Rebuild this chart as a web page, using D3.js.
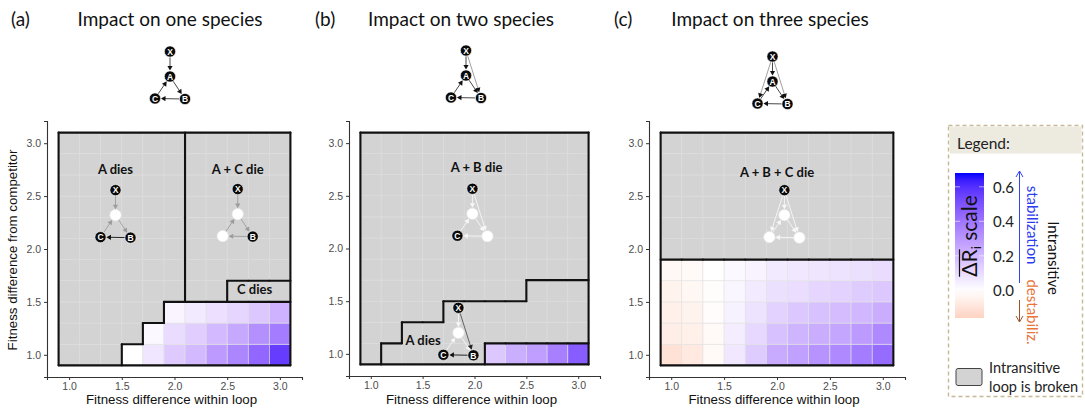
<!DOCTYPE html>
<html><head><meta charset="utf-8">
<script src="https://cdn.jsdelivr.net/npm/d3@7"></script>
<style>
body{margin:0;background:#fff;}
svg{display:block;}
</style></head><body>
<svg id="chart" width="1085" height="408"></svg>
<script>
// ================= DATA =================
const xValues = [1.0,1.2,1.4,1.6,1.8,2.0,2.2,2.4,2.6,2.8,3.0];
const yValues = [1.0,1.2,1.4,1.6,1.8,2.0,2.2,2.4,2.6,2.8,3.0];
const tickValues = [1.0,1.5,2.0,2.5,3.0];
const legendTicks = [0.0,0.2,0.4,0.6];
const panelLetters = ["(a)","(b)","(c)"];
const panelTitles = ["Impact on one species","Impact on two species","Impact on three species"];
const xAxisTitle = "Fitness difference within loop";
const yAxisTitle = "Fitness difference from competitor";

// Outcome per tile: rows from y=1.0 (first) to y=3.0 (last), columns x=1.0..3.0
// "." = intransitive loop kept; A = A dies; P = A + C die; C = C dies; Q = A + B die; R = A + B + C die
const outcomesA = [
  "AAA........",
  "AAAA.......",
  "AAAAA......",
  "AAAAAAPPCCC",
  "AAAAAAPPPPP",
  "AAAAAAPPPPP",
  "AAAAAAPPPPP",
  "AAAAAAPPPPP",
  "AAAAAAPPPPP",
  "AAAAAAPPPPP",
  "AAAAAAPPPPP"
];
const outcomesB = [
  "QAAAAA.....",
  "QQAAAAAAAAA",
  "QQQQAAAAAAA",
  "QQQQQQQQAAA",
  "QQQQQQQQQQQ",
  "QQQQQQQQQQQ",
  "QQQQQQQQQQQ",
  "QQQQQQQQQQQ",
  "QQQQQQQQQQQ",
  "QQQQQQQQQQQ",
  "QQQQQQQQQQQ"
];
const outcomesC = [
  "...........",
  "...........",
  "...........",
  "...........",
  "...........",
  "RRRRRRRRRRR",
  "RRRRRRRRRRR",
  "RRRRRRRRRRR",
  "RRRRRRRRRRR",
  "RRRRRRRRRRR",
  "RRRRRRRRRRR"
];
// Mean change in R_i for the tiles where the loop is kept (row by row, left to right)
const valuesA = [
  [0.00,0.07,0.15,0.20,0.29,0.35,0.44,0.56],
  [0.02,0.10,0.14,0.20,0.25,0.32,0.38],
  [0.03,0.06,0.09,0.12,0.16,0.22]
];
const valuesB = [
  [0.16,0.23,0.28,0.37,0.47]
];
const valuesC = [
  [-0.11,-0.08,-0.02,0.065,0.146,0.243,0.27,0.31,0.34,0.38,0.425],
  [-0.06,-0.055,-0.02,0.05,0.11,0.176,0.214,0.235,0.255,0.29,0.34],
  [-0.055,-0.045,-0.01,0.038,0.08,0.13,0.16,0.176,0.19,0.205,0.235],
  [-0.045,-0.03,-0.007,0.026,0.06,0.088,0.097,0.117,0.13,0.146,0.16],
  [-0.025,-0.018,0.0,0.02,0.035,0.06,0.065,0.073,0.08,0.088,0.10]
];
const legendMin = -0.16, legendMax = 0.68;

// ================= LAYOUT / STYLE =================
const svg = d3.select("#chart");
const LATO = "Lato, 'Open Sans', sans-serif";
const SANS = "'Liberation Sans', Arial, sans-serif";
const GRAY = "#d3d3d3";
const color = d3.scaleLinear().domain([-legendMax, 0, legendMax])
  .range(["#ff0000","#ffffff","#0000ff"]).interpolate(d3.interpolateLab);

const nodeOffset = {X:[0,-25], A:[0,0], B:[15,22.5], C:[-15,22]};
const loopEdges = [["X","A"],["A","B"],["B","C"],["C","A"]];

function drawNetwork(g, cx, cy, dead, edges, r) {
  edges.forEach(([s,t,lineCol,headCol,lw]) => {
    const x1 = cx + nodeOffset[s][0], y1 = cy + nodeOffset[s][1];
    const x2 = cx + nodeOffset[t][0], y2 = cy + nodeOffset[t][1];
    const dx = x2-x1, dy = y2-y1, L = Math.hypot(dx,dy), ux = dx/L, uy = dy/L;
    const sx = x1+ux*r, sy = y1+uy*r, ex = x2-ux*(r+0.3), ey = y2-uy*(r+0.3);
    const hl = 4.6, hw = 2.6;
    g.append("line").attr("x1",sx).attr("y1",sy).attr("x2",ex-ux*hl*0.6).attr("y2",ey-uy*hl*0.6)
      .attr("stroke",lineCol).attr("stroke-width",lw||0.9);
    g.append("path")
      .attr("d",`M${ex},${ey}L${ex-ux*hl-uy*hw},${ey-uy*hl+ux*hw}L${ex-ux*hl+uy*hw},${ey-uy*hl-ux*hw}Z`)
      .attr("fill",headCol);
  });
  ["X","A","B","C"].forEach(n => {
    const px = cx + nodeOffset[n][0], py = cy + nodeOffset[n][1];
    const isDead = dead.includes(n);
    g.append("circle").attr("cx",px).attr("cy",py).attr("r",r)
      .attr("fill", isDead ? "#ffffff" : "#0a0a0a")
      .attr("stroke", isDead ? "#eeeeee" : "#ffffff").attr("stroke-width",0.6);
    if (!isDead) {
      g.append("text").attr("x",px).attr("y",py+0.3).text(n)
        .attr("text-anchor","middle").attr("dominant-baseline","central")
        .attr("font-family",SANS).attr("font-weight","bold").attr("font-size",8.5).attr("fill","#fff");
    }
  });
}

function mk(list, col, head, lw){ return list.map(([s,t]) => [s,t,col,head||col,lw]); }
const GR = "#9c9c9c", WH = "#f7f7f7", BK = "#111111";

const panels = [
  { left:47, right:302, top:121, bottom:377, outcomes:outcomesA, values:valuesA, yTitle:true,
    titleX:170, letterX:11, net:[170,76.5], netExtra:[],
    labels:[["A dies",1.44,2.76],["A + C die",2.60,2.76],["C dies",2.76,1.62]],
    nets:[
      {x:1.44, y:2.32, dead:["A"], edges:[["X","A",GR,GR],["A","B",GR,GR],["B","C",BK,BK],["C","A",GR,GR]]},
      {x:2.60, y:2.33, dead:["A","C"], edges:mk(loopEdges,GR)}
    ]},
  { left:349, right:600, top:121, bottom:376, outcomes:outcomesB, values:valuesB, yTitle:false,
    titleX:461, letterX:315, net:[466,75.5], netExtra:[["X","B"]],
    labels:[["A + B die",2.02,2.77],["A dies",1.505,1.13]],
    nets:[
      {x:1.98, y:2.33, dead:["A","B"], edges:mk(loopEdges.concat([["X","B"]]),WH)},
      {x:1.845, y:1.20, dead:["A"], edges:[["X","A",WH,WH],["A","B",WH,WH],["C","A",WH,WH],["B","C",BK,BK],["X","B","#555","#222"]]}
    ]},
  { left:649, right:905, top:121, bottom:377, outcomes:outcomesC, values:valuesC, yTitle:false,
    titleX:770, letterX:614, net:[772.5,81.5], netExtra:[["X","C"],["X","B"]],
    labels:[["A + B + C die",2.0,2.73]],
    nets:[
      {x:2.07, y:2.32, dead:["A","B","C"], edges:mk(loopEdges.concat([["X","C"],["X","B"]]),WH)}
    ]}
];

panels.forEach((cfg, i) => {
  const x = d3.scaleLinear().domain([0.79,3.21]).range([cfg.left, cfg.right]);
  const y = d3.scaleLinear().domain([0.79,3.21]).range([cfg.bottom, cfg.top]);
  const g = svg.append("g");

  // titles
  svg.append("text").attr("x",cfg.letterX).attr("y",18).text(panelLetters[i])
    .attr("dominant-baseline","central").attr("font-family",LATO).attr("font-size",19).attr("fill","#111");
  svg.append("text").attr("x",cfg.titleX).attr("y",18).text(panelTitles[i])
    .attr("text-anchor","middle").attr("dominant-baseline","central")
    .attr("font-family",LATO).attr("font-size",19).attr("fill","#111");

  // tiles
  const tiles = [];
  cfg.outcomes.forEach((row, ri) => {
    let k = 0;
    [...row].forEach((code, ci) => {
      const t = {x:xValues[ci], y:yValues[ri], code};
      if (code === ".") t.value = cfg.values[ri][k++];
      tiles.push(t);
    });
  });
  const h = 0.1;
  g.selectAll("rect.tile").data(tiles).join("rect").attr("class","tile")
    .attr("x", d => x(d.x-h)).attr("y", d => y(d.y+h))
    .attr("width", d => x(d.x+h)-x(d.x-h)).attr("height", d => y(d.y-h)-y(d.y+h))
    .attr("fill", d => d.code === "." ? color(d.value) : GRAY)
    .attr("stroke", d => d.code === "." ? "#e2e2e2" : "#dddddd").attr("stroke-width",0.6);

  // region boundaries
  const segs = [];
  const rows = cfg.outcomes;
  for (let ri = 0; ri < rows.length; ri++) {
    for (let ci = 0; ci < xValues.length; ci++) {
      if (ci < xValues.length-1 && rows[ri][ci] !== rows[ri][ci+1])
        segs.push([xValues[ci]+h, yValues[ri]-h, xValues[ci]+h, yValues[ri]+h]);
      if (ri < rows.length-1 && rows[ri][ci] !== rows[ri+1][ci])
        segs.push([xValues[ci]-h, yValues[ri]+h, xValues[ci]+h, yValues[ri]+h]);
    }
  }
  const x0 = xValues[0]-h, x1 = xValues[xValues.length-1]+h;
  const y0 = yValues[0]-h, y1 = yValues[yValues.length-1]+h;
  segs.push([x0,y0,x1,y0],[x1,y0,x1,y1],[x1,y1,x0,y1],[x0,y1,x0,y0]);
  g.selectAll("line.seg").data(segs).join("line").attr("class","seg")
    .attr("x1", d => x(d[0])).attr("y1", d => y(d[1]))
    .attr("x2", d => x(d[2])).attr("y2", d => y(d[3]))
    .attr("stroke","#111").attr("stroke-width",2.1).attr("stroke-linecap","round");

  // axes
  const ax = g.append("g").attr("transform",`translate(0,${cfg.bottom})`)
    .call(d3.axisBottom(x).tickValues(tickValues).tickFormat(d3.format(".1f")).tickSizeOuter(0).tickSize(3).tickPadding(3));
  const ay = g.append("g").attr("transform",`translate(${cfg.left},0)`)
    .call(d3.axisLeft(y).tickValues(tickValues).tickFormat(d3.format(".1f")).tickSizeOuter(0).tickSize(3).tickPadding(3));
  [ax, ay].forEach(a => {
    a.select(".domain").attr("stroke","#333").attr("stroke-width",1.1);
    a.selectAll(".tick line").attr("stroke","#333");
    a.selectAll(".tick text").attr("font-family",SANS).attr("font-size",10.5).attr("fill","#4d4d4d");
  });

  svg.append("text").attr("x",(cfg.left+cfg.right)/2 - 3).attr("y",404).text(xAxisTitle)
    .attr("text-anchor","middle").attr("font-family",SANS).attr("font-size",13.3).attr("fill","#111");
  if (cfg.yTitle) {
    svg.append("text").attr("transform",`translate(17,250) rotate(-90)`).text(yAxisTitle)
      .attr("text-anchor","middle").attr("font-family",SANS).attr("font-size",13.3).attr("fill","#111");
  }

  // in-panel labels & networks
  cfg.labels.forEach(([txt, lx, ly]) => {
    g.append("text").attr("x",x(lx)).attr("y",y(ly)).text(txt)
      .attr("text-anchor","middle").attr("dominant-baseline","central")
      .attr("font-family",LATO).attr("font-weight","bold").attr("font-size",13).attr("fill","#111");
  });
  cfg.nets.forEach(n => drawNetwork(g, x(n.x), y(n.y), n.dead, n.edges, 5.6));

  // top diagram
  const topEdges = mk(loopEdges,"#333","#111").concat(mk(cfg.netExtra,"#888","#111",0.8));
  drawNetwork(svg.append("g"), cfg.net[0], cfg.net[1], [], topEdges, 5.6);
});

// ================= LEGEND =================
const lg = svg.append("g");
lg.append("rect").attr("x",948.5).attr("y",125.5).attr("width",134).attr("height",271)
  .attr("fill","#fff").attr("stroke","#c8b995").attr("stroke-width",1.4).attr("stroke-dasharray","4,3");
lg.append("rect").attr("x",949.5).attr("y",126.5).attr("width",132).attr("height",27).attr("fill","#edeae0");
lg.append("text").attr("x",957).attr("y",143).text("Legend:").attr("dominant-baseline","central")
  .attr("font-family",LATO).attr("font-size",15.5).attr("fill","#222");

const ly = d3.scaleLinear().domain([legendMin, legendMax]).range([318, 173]);
const grad = svg.append("defs").append("linearGradient").attr("id","lgGrad")
  .attr("x1",0).attr("y1",0).attr("x2",0).attr("y2",1);
d3.range(0,1.0001,0.05).forEach(f => {
  const v = legendMax - f*(legendMax-legendMin);
  grad.append("stop").attr("offset",f).attr("stop-color",color(v));
});
lg.append("rect").attr("x",955).attr("y",ly(legendMax)).attr("width",29)
  .attr("height",ly(legendMin)-ly(legendMax)).attr("fill","url(#lgGrad)");
legendTicks.forEach(t => {
  [955, 979].forEach(tx => lg.append("line").attr("x1",tx).attr("x2",tx+5).attr("y1",ly(t)).attr("y2",ly(t))
    .attr("stroke","#fff").attr("stroke-opacity",0.7).attr("stroke-width",0.8));
  lg.append("text").attr("x",993).attr("y",ly(t)).text(t.toFixed(1)).attr("dominant-baseline","central")
    .attr("font-family",LATO).attr("font-size",15).attr("fill","#222");
});

// rotated scale title with overline on ΔR
const st = lg.append("g").attr("transform","translate(977,236) rotate(-90)");
const stText = st.append("text").attr("font-family",LATO).attr("font-size",21).attr("fill","#111");
stText.append("tspan").text("ΔR");
stText.append("tspan").text("i").attr("font-size",13).attr("dy",4);
stText.append("tspan").text(" scale").attr("dy",-4);
const fullW = stText.node().getComputedTextLength();
stText.attr("x",-fullW/2);
const tmp = st.append("text").attr("font-family",LATO).attr("font-size",21).text("ΔR");
const drW = tmp.node().getComputedTextLength();
tmp.remove();
st.append("line").attr("x1",-fullW/2).attr("x2",-fullW/2+drW).attr("y1",-17.5).attr("y2",-17.5)
  .attr("stroke","#111").attr("stroke-width",1.2);

// arrows
function chevron(x0, y0, dir, col) {
  lg.append("path").attr("d",`M${x0-3.5},${y0-dir*6}L${x0},${y0}L${x0+3.5},${y0-dir*6}`)
    .attr("fill","none").attr("stroke",col).attr("stroke-width",1);
}
lg.append("line").attr("x1",1019.5).attr("x2",1019.5).attr("y1",171).attr("y2",283).attr("stroke","#3344ee").attr("stroke-width",1);
chevron(1019.5,171,-1,"#3344ee");
lg.append("line").attr("x1",1019.5).attr("x2",1019.5).attr("y1",300).attr("y2",322).attr("stroke","#a0522d").attr("stroke-width",1);
chevron(1019.5,322,1,"#a0522d");

[["stabilization",1033,225,"#2b3bef"],["destabiliz.",1033,312,"#e8743b"],["Intransitive",1054,258,"#111"]]
  .forEach(([t,tx,ty,c]) => {
    lg.append("text").attr("transform",`translate(${tx},${ty}) rotate(90)`).text(t)
      .attr("text-anchor","middle").attr("dominant-baseline","central")
      .attr("font-family",LATO).attr("font-size",15).attr("fill",c);
  });

lg.append("rect").attr("x",956).attr("y",368.5).attr("width",26).attr("height",17).attr("rx",2)
  .attr("fill",GRAY).attr("stroke","#444").attr("stroke-width",1);
lg.append("text").attr("x",989).attr("y",367).text("Intransitive").attr("dominant-baseline","central")
  .attr("font-family",LATO).attr("font-size",14.5).attr("fill","#222");
lg.append("text").attr("x",989).attr("y",386).text("loop is broken").attr("dominant-baseline","central")
  .attr("font-family",LATO).attr("font-size",14.5).attr("fill","#222");
</script>
</body></html>
